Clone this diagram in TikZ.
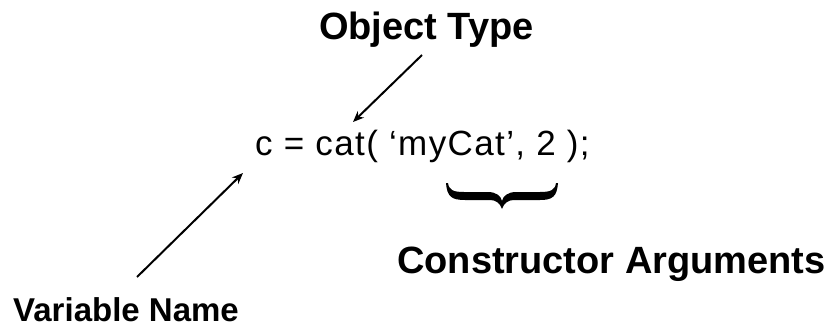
\documentclass[tikz,border=0pt]{standalone}
\usepackage{fontspec}
\setmainfont{Liberation Sans}
\newfontfamily\codefont[LetterSpace=4]{Liberation Sans}
\usetikzlibrary{arrows.meta}
\begin{document}
\begin{tikzpicture}[x=1pt,y=-1pt,
  label/.style={inner sep=0pt,anchor=base west,font=\fontsize{38}{44}\selectfont\bfseries},
  codetext/.style={inner sep=0pt,anchor=base west,font=\codefont\fontsize{35}{40}\selectfont},
  pointer/.style={line width=2pt,-{Stealth[length=11pt,width=9pt]}},
  bracefill/.style={fill=black,draw=none}]
\useasboundingbox (0,0) rectangle (831,327);

% labels
\node[label] (objtype) at (319,39) {Object Type};
\node[label] (ctorargs) at (397,273) {Constructor Arguments};
\node[label,font=\fontsize{33}{40}\selectfont\bfseries] (varname) at (13,321) {Variable Name};

% the statement
\node[codetext] (stmt) at (255,155) {c = cat( ‘myCat’, 2 );};

% arrow ends
\coordinate (typetail) at (422,55);
\coordinate (typehead) at (353,122);
\coordinate (vartail) at (137,277);
\coordinate (varhead) at (243,173);

\draw[pointer] (typetail) -- (typehead);
\draw[pointer] (vartail) -- (varhead);

% curly brace under the arguments
\fill[bracefill] (446,183)
  .. controls (447,197) and (452,200) .. (465,200) -- (490,200)
  .. controls (496,200) and (500,203) .. (502,209)
  .. controls (504,203) and (508,200) .. (514,200) -- (540,200)
  .. controls (552,200) and (557,197) .. (558,183) -- (556,183)
  .. controls (555,190) and (551,192) .. (540,192) -- (516,192)
  .. controls (508,192) and (503,196) .. (502,201)
  .. controls (501,196) and (496,192) .. (488,192) -- (464,192)
  .. controls (453,192) and (449,190) .. (448,183) -- cycle;
\end{tikzpicture}
\end{document}
